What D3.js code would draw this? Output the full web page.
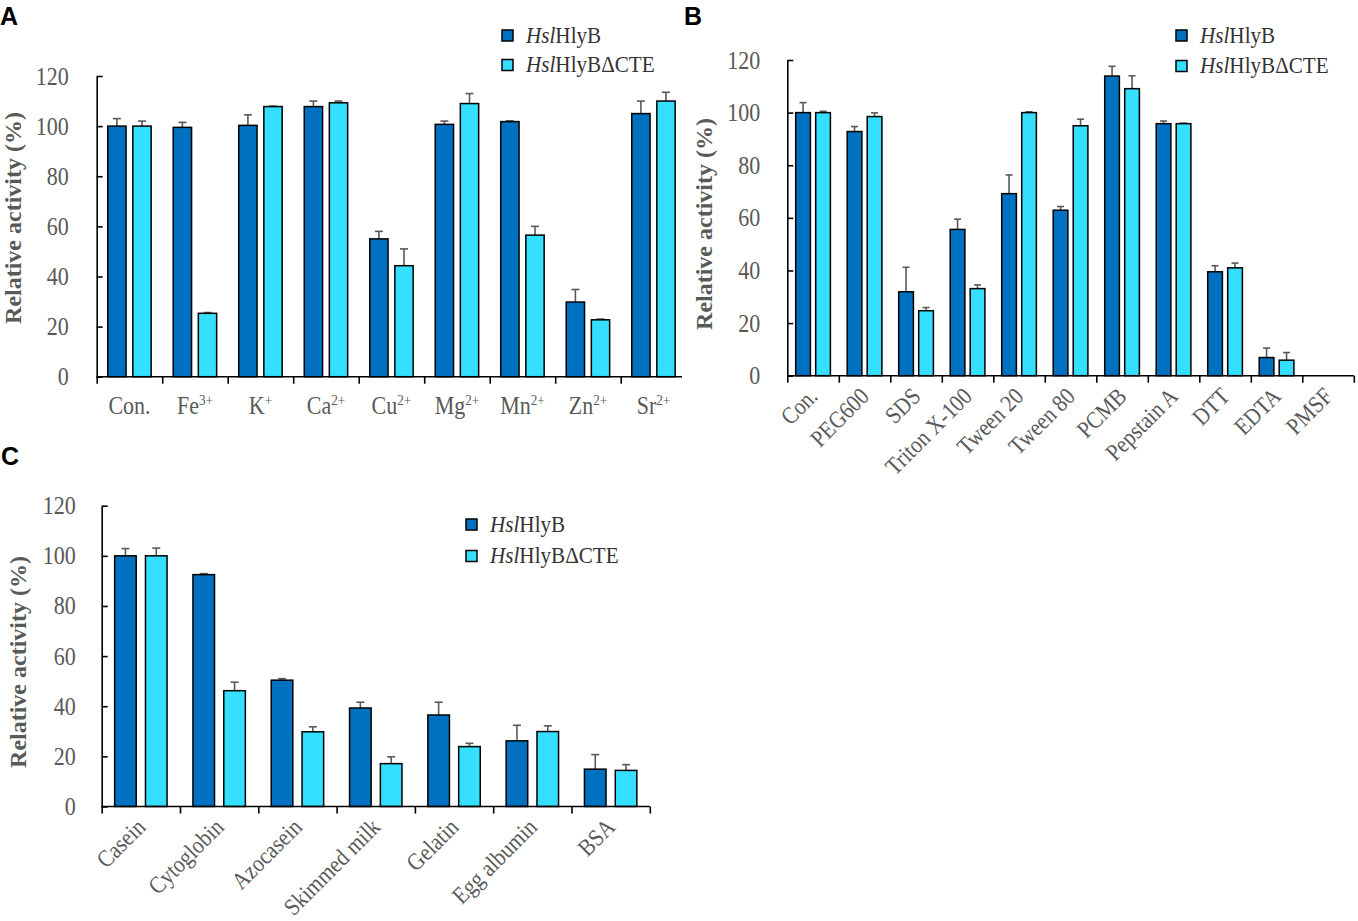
<!DOCTYPE html>
<html>
<head>
<meta charset="utf-8">
<script src="https://cdn.jsdelivr.net/npm/d3@7"></script>
<style>
  body { margin: 0; background: #fff; }
  svg { display: block; }
  .tick text { font-family: "Liberation Serif", "Times New Roman", serif; fill: #595959; }
</style>
</head>
<body>
<svg width="1358" height="921"></svg>
<script>
// panel A - metal ions
const catsA = ["Con.", "Fe3+", "K+", "Ca2+", "Cu2+", "Mg2+", "Mn2+", "Zn2+", "Sr2+"];
const hlyA = [100, 99.5, 100.3, 107.8, 55, 100.7, 101.8, 29.8, 105];
const hlyErrA = [3, 2, 4.2, 2.2, 3, 1.3, 0.3, 5, 5];
const cteA = [100, 25.3, 107.8, 109.3, 44.3, 109, 56.5, 22.7, 110];
const cteErrA = [2, 0.3, 0.2, 0.7, 6.7, 4, 3.5, 0.3, 3.5];

// panel B - inhibitors / detergents
const catsB = ["Con.", "PEG600", "SDS", "Triton X-100", "Tween 20", "Tween 80", "PCMB", "Pepstain A", "DTT", "EDTA", "PMSF"];
const hlyB = [100, 92.8, 31.9, 55.6, 69.2, 62.9, 113.9, 95.8, 39.5, 6.9, 0];
const hlyErrB = [3.8, 1.9, 9.3, 3.9, 7.1, 1.4, 3.7, 1, 2.3, 3.6, 0];
const cteB = [100, 98.5, 24.7, 33.1, 100, 95, 109.1, 95.8, 41, 5.9, 0];
const cteErrB = [0.5, 1.4, 1.2, 1.4, 0.3, 2.5, 4.9, 0.2, 1.8, 2.9, 0];

// panel C - substrates
const catsC = ["Casein", "Cytoglobin", "Azocasein", "Skimmed milk", "Gelatin", "Egg albumin", "BSA"];
const hlyC = [100, 92.5, 50.4, 39.3, 36.5, 26.2, 14.9];
const hlyErrC = [2.9, 0.4, 0.6, 2.3, 5.1, 6.2, 5.8];
const cteC = [100, 46.2, 29.8, 17.1, 23.9, 29.9, 14.4];
const cteErrC = [3.1, 3.4, 2, 2.7, 1.3, 2.3, 2.3];

const yTicks = [0, 20, 40, 60, 80, 100, 120];
const seriesNames = ["HlyB", "HlyB\u0394CTE"];
const colors = ["#0070C0", "#35DFFF"];

const svg = d3.select("svg");
const serif = "'Liberation Serif', 'Times New Roman', serif";
const sx = 0.88; // the source text is a bit taller than wide

function drawPanel(p) {
    const g = svg.append("g");

    const y = d3.scaleLinear().domain([0, 120]).range([p.yBottom, p.yTop]);
    const xl = d3.scaleLinear().domain([0, p.cats.length]).range([p.x0, p.x1]);
    const x = d3.scaleBand().domain(p.cats).range([p.x0, p.x1]).padding(0);
    const xs = d3.scaleBand().domain([0, 1]).range([0, x.bandwidth()])
        .paddingInner(p.pin).paddingOuter(p.pout);

    // bars
    const rows = p.cats.map((c, i) => ({ c, v: [p.s1[i], p.s2[i]], e: [p.e1[i], p.e2[i]] }));
    const grp = g.selectAll("g.cat").data(rows).enter().append("g")
        .attr("transform", d => `translate(${x(d.c)},0)`);

    const items = grp.selectAll("g.bar")
        .data(d => d.v.map((v, k) => ({ v, k, e: d.e[k] })))
        .enter().append("g");

    // error bars (upper only)
    items.filter(d => d.v > 0).append("line")
        .attr("x1", d => xs(d.k) + xs.bandwidth() / 2)
        .attr("x2", d => xs(d.k) + xs.bandwidth() / 2)
        .attr("y1", d => y(d.v))
        .attr("y2", d => y(d.v + d.e))
        .attr("stroke", "#595959").attr("stroke-width", 1.6);
    items.filter(d => d.v > 0).append("line")
        .attr("x1", d => xs(d.k) + xs.bandwidth() / 2 - p.cap)
        .attr("x2", d => xs(d.k) + xs.bandwidth() / 2 + p.cap)
        .attr("y1", d => y(d.v + d.e))
        .attr("y2", d => y(d.v + d.e))
        .attr("stroke", "#595959").attr("stroke-width", 1.6);

    items.filter(d => d.v > 0).append("rect")
        .attr("x", d => xs(d.k))
        .attr("width", xs.bandwidth())
        .attr("y", d => y(d.v))
        .attr("height", d => y(0) - y(d.v))
        .attr("fill", d => colors[d.k])
        .attr("stroke", "#000").attr("stroke-width", 1.5);

    // y axis, ticks inward
    const ya = g.append("g").attr("transform", `translate(${p.x0},0)`)
        .call(d3.axisLeft(y).tickValues(yTicks).tickSizeInner(-6).tickSizeOuter(0).tickPadding(p.yPad));
    ya.select(".domain").attr("stroke", "#000").attr("stroke-width", 1.6);
    ya.selectAll(".tick line").attr("stroke", "#000").attr("stroke-width", 1.6);
    ya.selectAll(".tick text").attr("font-size", 25)
        .attr("x", -p.yPad / sx).attr("transform", `scale(${sx},1)`);

    // x axis, ticks on category boundaries
    const end = p.axisEnd || p.x1;
    const xa = g.append("g").attr("transform", `translate(0,${p.yBottom})`)
        .call(d3.axisBottom(xl).tickValues(d3.range(p.cats.length + 1).filter(v => xl(v) <= end + 0.5))
            .tickFormat("").tickSizeInner(7).tickSizeOuter(0));
    xa.select(".domain").attr("d", `M${p.x0},0H${end}`).attr("stroke", "#000").attr("stroke-width", 1.6);
    xa.selectAll(".tick line").attr("stroke", "#000").attr("stroke-width", 1.6);

    // category labels
    const labs = g.append("g").selectAll("text").data(p.cats).enter().append("text")
        .attr("font-family", serif).attr("font-size", p.labSize).attr("fill", "#595959");
    if (p.rotate) {
        labs.attr("text-anchor", "end")
            .attr("transform", d => `translate(${x(d) + x.bandwidth() / 2 + p.lx},${p.yBottom + p.ly}) rotate(${p.rotate}) scale(${sx},1)`)
            .text(d => d);
    } else {
        labs.attr("text-anchor", "middle")
            .attr("transform", d => `translate(${x(d) + x.bandwidth() / 2},${p.yBottom + p.ly}) scale(${sx},1)`)
            .each(function (d) {
                const m = d.match(/^(.*?)(\d?\+)?$/);
                const t = d3.select(this);
                t.append("tspan").text(m[1]);
                if (m[2]) t.append("tspan").attr("font-size", 15).attr("dy", -9).text(m[2]);
            });
    }

    // y title
    g.append("text")
        .attr("transform", `translate(${p.x0 - 84},${p.titleY}) rotate(-90)`)
        .attr("text-anchor", "middle").attr("dy", "0.35em")
        .attr("font-family", serif).attr("font-weight", "bold").attr("font-size", 24)
        .attr("fill", "#595959")
        .text("Relative activity (%)");

    // legend
    const lg = g.append("g").selectAll("g").data(seriesNames).enter().append("g")
        .attr("transform", (d, i) => `translate(${p.lgx},${p.lgy + i * p.lgdy})`);
    lg.append("rect").attr("width", 11).attr("height", 11)
        .attr("fill", (d, i) => colors[i]).attr("stroke", "#000").attr("stroke-width", 1.5);
    const lt = lg.append("text").attr("transform", "translate(24,12.5) scale(0.92,1)")
        .attr("font-family", serif).attr("font-size", 23).attr("fill", "#333");
    lt.append("tspan").attr("font-style", "italic").text("Hsl");
    lt.append("tspan").text(d => d);

    // panel letter
    svg.append("text").attr("x", p.letterX).attr("y", p.letterY)
        .attr("font-family", "'Liberation Sans', Arial, sans-serif").attr("font-weight", "bold")
        .attr("font-size", 25).attr("fill", "#000").text(p.letter);
}

drawPanel({
    cats: catsA, s1: hlyA, e1: hlyErrA, s2: cteA, e2: cteErrA,
    x0: 96.7, x1: 686.2, axisEnd: 682, yTop: 76, yBottom: 376.7, titleY: 218,
    pin: 0.27, pout: 0.44, cap: 4, yPad: 28, labSize: 25, ly: 37,
    lgx: 502, lgy: 30, lgdy: 29.5, letter: "A", letterX: 0, letterY: 25
});

drawPanel({
    cats: catsB, s1: hlyB, e1: hlyErrB, s2: cteB, e2: cteErrB,
    x0: 787.3, x1: 1353.8, yTop: 60, yBottom: 375.7, titleY: 224,
    pin: 0.265, pout: 0.42, cap: 3.5, yPad: 27, labSize: 24, rotate: -45, lx: 6, ly: 22,
    lgx: 1176, lgy: 30, lgdy: 30.5, letter: "B", letterX: 684, letterY: 25
});

drawPanel({
    cats: catsC, s1: hlyC, e1: hlyErrC, s2: cteC, e2: cteErrC,
    x0: 101.7, x1: 649.8, yTop: 505.7, yBottom: 806.5, titleY: 662,
    pin: 0.3, pout: 0.42, cap: 4, yPad: 26, labSize: 24, rotate: -45, lx: 6, ly: 22,
    lgx: 466, lgy: 519, lgdy: 31.5, letter: "C", letterX: 1, letterY: 465
});
</script>
</body>
</html>
